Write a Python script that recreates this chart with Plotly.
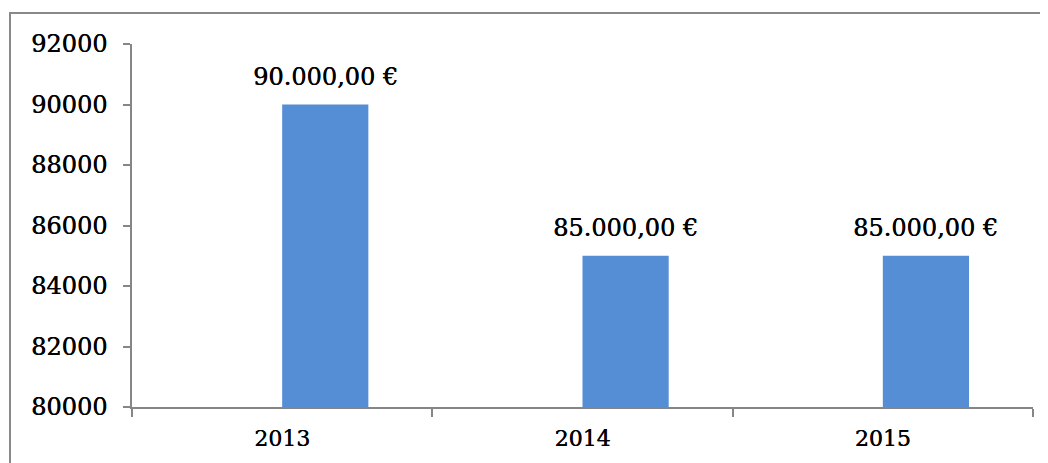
import plotly.graph_objects as go

# données
annees = ["2013", "2014", "2015"]
montants = [90000, 85000, 85000]
etiquettes = ["90.000,00 €", "85.000,00 €", "85.000,00 €"]
y_ticks = [80000, 82000, 84000, 86000, 88000, 90000, 92000]

police = "DejaVu Serif"
gris = "#868686"
ombre = "0.4px 0 0 #000000"  # épaissit un peu le trait du texte

fig = go.Figure()
fig.add_trace(go.Bar(
    x=annees, y=montants,
    offset=0, width=0.287,
    marker=dict(color="#558ED5", line_width=0),
    hoverinfo="x+y"))

# étiquettes de données (x = indice de catégorie)
for i, (m, e) in enumerate(zip(montants, etiquettes)):
    fig.add_annotation(x=i, y=m, text=e, showarrow=False,
                       yanchor="bottom", yshift=12, xshift=43,
                       font=dict(family=police, size=24, color="#000000", shadow=ombre))

# cadre du graphique (bord gauche et haut visibles)
fig.add_shape(type="rect", xref="paper", yref="paper",
              x0=-0.1354, x1=1.2, y0=-0.3, y1=1.0854,
              line=dict(color="#898989", width=2), layer="below")

fig.update_layout(
    width=1040, height=455,
    margin=dict(l=124, r=15, t=36, b=56),
    paper_bgcolor="white", plot_bgcolor="white",
    showlegend=False,
    font=dict(family=police, color="#000000"),
    xaxis=dict(type="category", categoryarray=annees, range=[-0.5, 2.5],
               showline=True, linecolor=gris, linewidth=1.5,
               ticks="outside", tickson="boundaries", ticklen=8, tickcolor=gris,
               tickwidth=1.5, showgrid=False, zeroline=False, tickangle=0,
               tickfont=dict(family=police, size=22, shadow=ombre), ticklabelstandoff=11),
    yaxis=dict(range=[80000, 92000], tickvals=y_ticks,
               ticktext=[str(v) for v in y_ticks], showline=True,
               linecolor=gris, linewidth=1.5, ticks="outside", ticklen=7,
               tickcolor=gris, tickwidth=1.5, showgrid=False, zeroline=False,
               tickfont=dict(family=police, size=24, shadow=ombre), ticklabelstandoff=11),
)

fig.write_html("out.html")
